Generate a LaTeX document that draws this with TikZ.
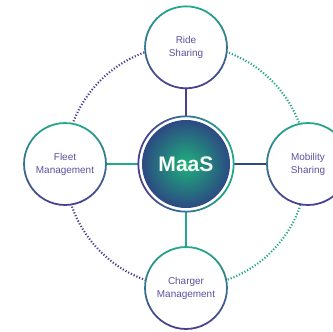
\documentclass[tikz,border=0pt]{standalone}
\usepackage{fontspec}
\setsansfont{Liberation Sans}
\usepackage{tikz}
\usetikzlibrary{calc}
\definecolor{maasteal}{RGB}{34,168,138}
\definecolor{maaspurple}{RGB}{74,62,142}
\definecolor{maastext}{RGB}{92,82,160}
\definecolor{maasdeep}{RGB}{44,74,130}
\tikzset{
  satellite/.style={circle, minimum size=2.46cm, inner sep=0pt, fill=white, align=center, text=maastext, font=\sffamily\fontsize{8.5}{11}\selectfont},
  hub/.style={circle, minimum size=2.88cm, inner sep=0pt, align=center, text=green!4, font=\sffamily\bfseries\fontsize{18}{20}\selectfont},
  spoke/.style={line width=1.6pt},
  dotring/.style={line width=1.8pt, dash pattern=on 1pt off 1.6pt}
}
% ring drawn in small arcs, colour mixed by angle
\newcommand{\gradring}[3]{%
  \foreach \i in {0,...,47}{
    \pgfmathsetmacro{\mixv}{50+50*#3}
    \draw[line width=1.5pt, maasteal!\mixv!maaspurple]
      ($(#1.center)+(\i*7.5:#2)$) arc[start angle=\i*7.5, end angle=\i*7.5+8, radius=#2];
  }}

\begin{document}
\begin{tikzpicture}
\useasboundingbox (-5.58,-5.01) rectangle (4.41,4.92);

\draw[dotring, maaspurple] (0,-0.06) ++(90:3.63) arc[start angle=90, end angle=270, radius=3.63];
\draw[dotring, maasteal] (0,-0.06) ++(-90:3.63) arc[start angle=-90, end angle=90, radius=3.63];

\shade[inner color=maasteal!90!green, outer color=maasdeep] (0,0) circle (1.32);
\node[hub] (maas) at (0,0) {MaaS};

\node[satellite] (ride) at (0,3.5) {Ride\\Sharing};
\node[satellite] (fleet) at (-3.63,0) {Fleet\\Management};
\node[satellite] (mobility) at (3.66,0) {Mobility\\Sharing};
\node[satellite] (charger) at (0,-3.72) {Charger\\Management};

\draw[spoke, maaspurple] (maas) -- (ride);
\draw[spoke, maasteal] (maas) -- (fleet);
\draw[spoke, maasdeep] (maas) -- (mobility);
\draw[spoke, maasteal] (maas) -- (charger);

\foreach \s in {ride,fleet,mobility,charger}{\gradring{\s}{1.23cm}{sin(\i*7.5+4)}}
\gradring{maas}{1.43cm}{cos(\i*7.5+4)}

\end{tikzpicture}
\end{document}
